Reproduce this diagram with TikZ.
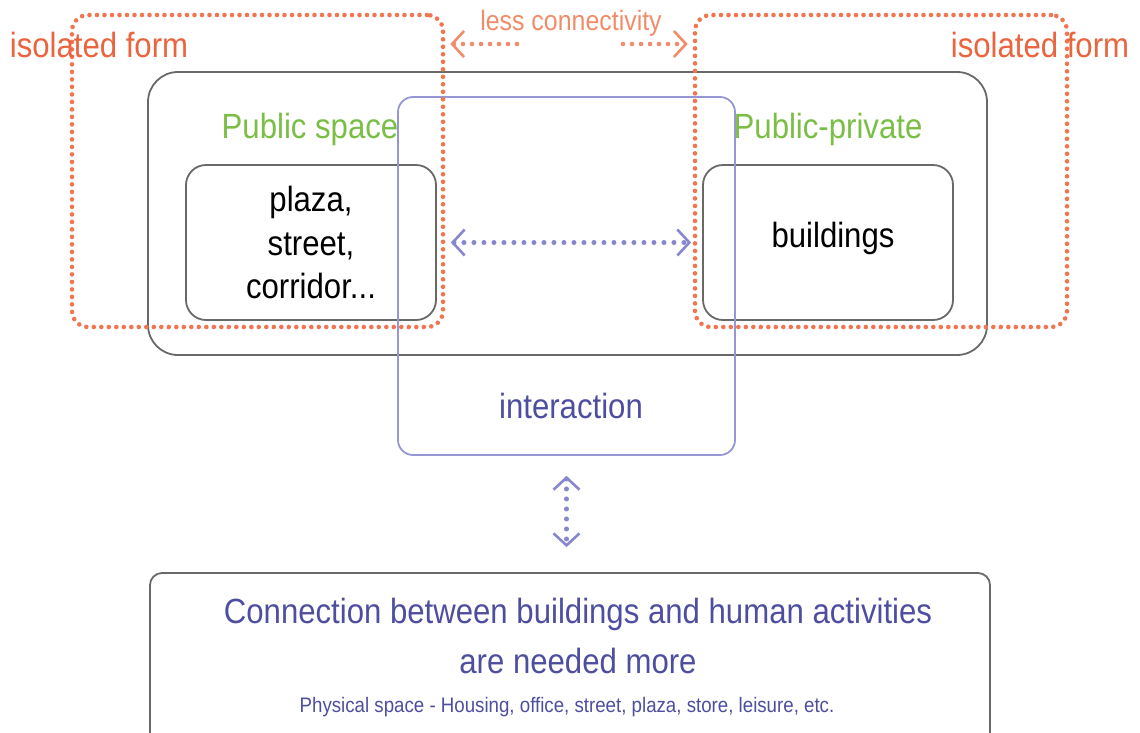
\documentclass[tikz,border=0pt]{standalone}
\usepackage{fontspec}
\setmainfont{Liberation Sans}[FakeStretch=0.89]
\usetikzlibrary{arrows.meta}
\definecolor{orng}{RGB}{234,100,62}
\definecolor{dotor}{RGB}{240,118,82}
\definecolor{lessc}{RGB}{240,140,105}
\definecolor{grn}{RGB}{122,190,70}
\definecolor{blu}{RGB}{78,78,160}
\definecolor{bluln}{RGB}{150,150,214}
\definecolor{bludot}{RGB}{135,135,205}
\definecolor{gry}{RGB}{105,105,105}
\tikzset{
  chev/.tip={Straight Barb[length=12pt, width=26pt, line width=2.6pt]},
  graybox/.style={draw=gry, line width=1.8pt, inner sep=0pt},
  bluebox/.style={draw=bluln, line width=1.8pt, inner sep=0pt, rounded corners=15pt},
  orangebox/.style={draw=dotor, line width=4.6pt, line cap=round, dash pattern=on 0pt off 7.5pt, rounded corners=16pt, inner sep=0pt},
  bluearrow/.style={draw=bludot, line width=5pt, line cap=round, dash pattern=on 0pt off 10pt, chev-chev},
  orangearrow/.style={draw=lessc, line width=4.6pt, line cap=round, dash pattern=on 0pt off 9pt, -chev},
  bigtxt/.style={font=\fontsize{35}{43.5}\selectfont, inner sep=0pt, align=center},
}
\begin{document}
\begin{tikzpicture}[x=1pt, y=-1pt]
\useasboundingbox (0,0) rectangle (1140,732);
% gray boxes
\node[graybox, rounded corners=30pt, minimum width=839pt, minimum height=283pt] (outer) at (567.5,213.5) {};
\node[graybox, rounded corners=20pt, minimum width=250pt, minimum height=155pt, bigtxt, text=black] (inL) at (311,242.5) {plaza,\\street,\\corridor...};
\node[graybox, rounded corners=20pt, minimum width=250pt, minimum height=155pt] (inR) at (828,242.5) {};
\node[bigtxt, text=black] (bld) at (833,238) {buildings};
% blue interaction box
\node[bluebox, minimum width=337pt, minimum height=358pt] (inter) at (566.5,276) {};
\node[bigtxt, text=blu] (intert) at (571,406) {interaction};
% orange isolated forms
\node[orangebox, minimum width=371pt, minimum height=312pt] (lor) at (257.5,171) {};
\node[orangebox, minimum width=372pt, minimum height=312pt] (ror) at (881,171) {};
\node[bigtxt, text=orng] (isoL) at (99,45) {isolated form};
\node[bigtxt, text=orng] (isoR) at (1040,45) {isolated form};
\node[font=\fontsize{28}{32}\selectfont, inner sep=0pt, text=lessc] (less) at (571,23) {less connectivity};
% green titles
\node[bigtxt, text=grn] (pubs) at (310,129) {Public space};
\node[bigtxt, text=grn] (pubp) at (828,129) {Public-private};
% bottom box
\node[graybox, rounded corners=12pt, minimum width=840pt, minimum height=172pt] (bottom) at (570,659) {};
\node[bigtxt, text=blu] (b1) at (578,614) {Connection between buildings and human activities};
\node[bigtxt, text=blu] (b2) at (578,661) {are needed more};
\node[font=\fontsize{21}{24}\selectfont, inner sep=0pt, text=blu] (b3) at (567,707) {Physical space - Housing, office, street, plaza, store, leisure, etc.};
% connectors
\draw[bluearrow, shorten <=14pt, shorten >=11pt] (inL.east) -- (inR.west);
\draw[bluearrow, shorten <=20pt, shorten >=25pt] (inter.south) -- (inter.south |- bottom.north);
\coordinate (la) at (517,44);
\coordinate (ra) at (623,44);
\draw[orangearrow, shorten >=5pt] (la) -- (lor.east |- la);
\draw[orangearrow, shorten >=5pt] (ra) -- (ror.west |- ra);
\end{tikzpicture}
\end{document}
